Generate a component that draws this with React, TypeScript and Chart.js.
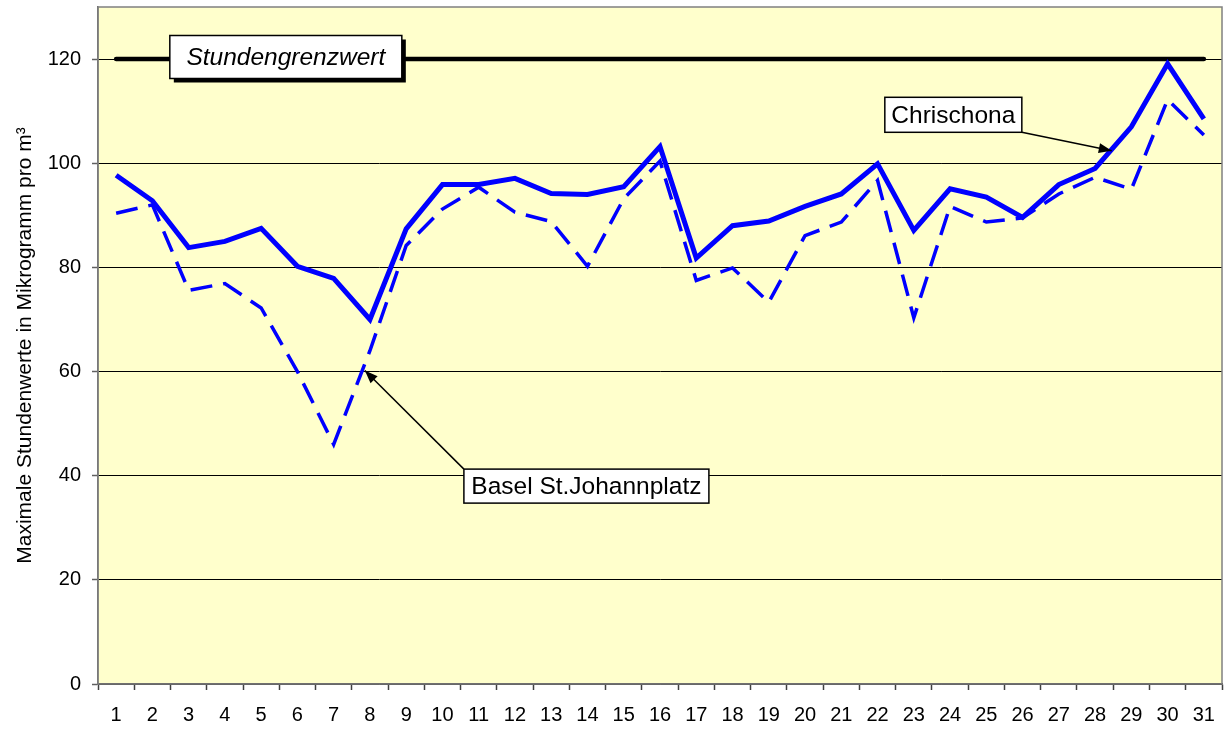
import React, { useEffect, useRef } from "react";
import { Chart, registerables } from "chart.js";

Chart.register(...registerables);

const days: string[] = Array.from({ length: 31 }, (_, i) => String(i + 1));

const chrischona: number[] = [
  97.7, 92.8, 83.8, 85.0, 87.5, 80.2, 77.9, 70.0, 87.4, 95.9, 95.9, 97.1, 94.2, 94.0, 95.5, 103.2,
  81.8, 88.0, 88.9, 91.7, 94.1, 99.9, 87.1, 95.1, 93.5, 89.6, 95.9, 99.0, 107.0, 119.1, 108.5,
];

const baselStJohann: number[] = [
  90.4, 92.0, 75.6, 76.9, 72.2, 60.0, 46.0, 64.0, 84.2, 91.2, 95.4, 90.6, 88.8, 80.2, 93.2, 100.4,
  77.5, 79.9, 73.3, 86.1, 88.7, 96.7, 70.3, 91.7, 88.7, 89.5, 94.1, 97.3, 95.0, 112.2, 105.4,
];

const limitValue = 120;
const limitLine: number[] = days.map(() => limitValue);

const yTicks: number[] = [0, 20, 40, 60, 80, 100, 120];

const FONT = "'Liberation Sans', Arial, sans-serif";

// annotation anchors in data coordinates (category index, value)
const annotations = [
  { text: "Stundengrenzwert", cx: 4.68, cy: 120.4, w: 232, h: 43, italic: true, shadow: true, arrowFrom: null as null | string, tip: null as null | [number, number] },
  { text: "Chrischona", cx: 23.09, cy: 109.3, w: 137, h: 35, italic: false, shadow: false, arrowFrom: "br", tip: [27.46, 102.4] as [number, number] },
  { text: "Basel St.Johannplatz", cx: 12.97, cy: 38.0, w: 245, h: 34, italic: false, shadow: false, arrowFrom: "tl", tip: [6.86, 60.2] as [number, number] },
];

const plotBg = {
  id: "plotBg",
  beforeDraw(chart: any) {
    const { ctx, chartArea: a } = chart;
    ctx.save();
    ctx.fillStyle = "#FFFFCC";
    ctx.fillRect(a.left, a.top, a.right - a.left, a.bottom - a.top);
    ctx.restore();
  },
  afterDraw(chart: any) {
    const { ctx, chartArea: a } = chart;
    ctx.save();
    ctx.strokeStyle = "#808080";
    ctx.lineWidth = 1.5;
    ctx.strokeRect(a.left, a.top, a.right - a.left, a.bottom - a.top);
    ctx.restore();
  },
};

const annotPlugin = {
  id: "annotPlugin",
  afterDatasetsDraw(chart: any) {
    const { ctx } = chart;
    const x = chart.scales.x;
    const y = chart.scales.y;
    ctx.save();
    for (const an of annotations) {
      const cx = x.getPixelForValue(an.cx);
      const cy = y.getPixelForValue(an.cy);
      const left = cx - an.w / 2;
      const top = cy - an.h / 2;
      if (an.tip) {
        const tx = x.getPixelForValue(an.tip[0]);
        const ty = y.getPixelForValue(an.tip[1]);
        const sx = an.arrowFrom === "br" ? left + an.w : left;
        const sy = an.arrowFrom === "br" ? top + an.h : top;
        ctx.strokeStyle = "#000";
        ctx.lineWidth = 1.5;
        ctx.beginPath();
        ctx.moveTo(sx, sy);
        ctx.lineTo(tx, ty);
        ctx.stroke();
        const ang = Math.atan2(ty - sy, tx - sx);
        const len = 13;
        const half = 5;
        ctx.fillStyle = "#000";
        ctx.beginPath();
        ctx.moveTo(tx, ty);
        ctx.lineTo(tx - len * Math.cos(ang) + half * Math.sin(ang), ty - len * Math.sin(ang) - half * Math.cos(ang));
        ctx.lineTo(tx - len * Math.cos(ang) - half * Math.sin(ang), ty - len * Math.sin(ang) + half * Math.cos(ang));
        ctx.closePath();
        ctx.fill();
      }
      if (an.shadow) {
        ctx.fillStyle = "#000";
        ctx.fillRect(left + 4, top + 4, an.w, an.h);
      }
      ctx.fillStyle = "#fff";
      ctx.fillRect(left, top, an.w, an.h);
      ctx.strokeStyle = "#000";
      ctx.lineWidth = 1.5;
      ctx.strokeRect(left, top, an.w, an.h);
      ctx.fillStyle = "#000";
      ctx.font = `${an.italic ? "italic " : ""}24.5px ${FONT}`;
      ctx.textAlign = "center";
      ctx.textBaseline = "middle";
      ctx.fillText(an.text, cx, cy + 1);
    }
    ctx.restore();
  },
};

export default function App() {
  const ref = useRef<HTMLCanvasElement | null>(null);

  useEffect(() => {
    if (!ref.current) return;
    const chart = new Chart(ref.current, {
      type: "line",
      data: {
        labels: days,
        datasets: [
          {
            label: "Chrischona",
            data: chrischona,
            borderColor: "#0000FF",
            borderWidth: 5,
            pointRadius: 0,
            tension: 0,
            fill: false,
          },
          {
            label: "Basel St.Johannplatz",
            data: baselStJohann,
            borderColor: "#0000FF",
            borderWidth: 3.5,
            borderDash: [22, 11],
            pointRadius: 0,
            tension: 0,
            fill: false,
          },
          {
            label: "Stundengrenzwert",
            data: limitLine,
            borderColor: "#000000",
            borderWidth: 4.5,
            borderCapStyle: "round",
            pointRadius: 0,
            fill: false,
          },
        ],
      },
      options: {
        responsive: false,
        animation: false,
        layout: { padding: { top: 7, right: 10, left: 0, bottom: 0 } },
        plugins: {
          legend: { display: false },
          tooltip: { enabled: false },
          title: { display: false },
        },
        scales: {
          x: {
            type: "category",
            offset: true,
            grid: {
              offset: true,
              drawOnChartArea: false,
              drawTicks: true,
              tickLength: 6,
              tickColor: "#404040",
              tickWidth: 1.5,
            },
            border: { display: true, color: "#404040", width: 1.5 },
            ticks: {
              color: "#000",
              font: { family: FONT, size: 20 },
              padding: 13,
              maxRotation: 0,
              autoSkip: false,
            },
            afterFit(scale: any) {
              scale.height = 45;
              scale.paddingLeft = 0;
              scale.paddingRight = 0;
            },
          },
          y: {
            min: 0,
            max: 130,
            afterBuildTicks(scale: any) {
              scale.ticks = yTicks.map((v) => ({ value: v }));
            },
            grid: {
              color: "#000000",
              lineWidth: 1,
              drawTicks: true,
              tickLength: 6,
              tickColor: "#606060",
              tickWidth: 1.5,
            },
            border: { display: true, color: "#606060", width: 1.5 },
            ticks: {
              color: "#000",
              font: { family: FONT, size: 20 },
              padding: 11,
            },
            title: {
              display: true,
              text: "Maximale Stundenwerte in Mikrogramm pro m³",
              color: "#000",
              font: { family: FONT, size: 21, weight: "normal" },
              padding: { top: 13, bottom: 0 },
            },
            afterFit(scale: any) {
              scale.width = 98;
              scale.paddingTop = 0;
              scale.paddingBottom = 0;
            },
          },
        },
      },
      plugins: [plotBg, annotPlugin],
    });
    return () => chart.destroy();
  }, []);

  return (
    <div style={{ position: "fixed", left: 0, top: 0, width: 1232, height: 729, background: "#fff" }}>
      <canvas ref={ref} width={1232} height={729} style={{ display: "block" }} />
    </div>
  );
}
